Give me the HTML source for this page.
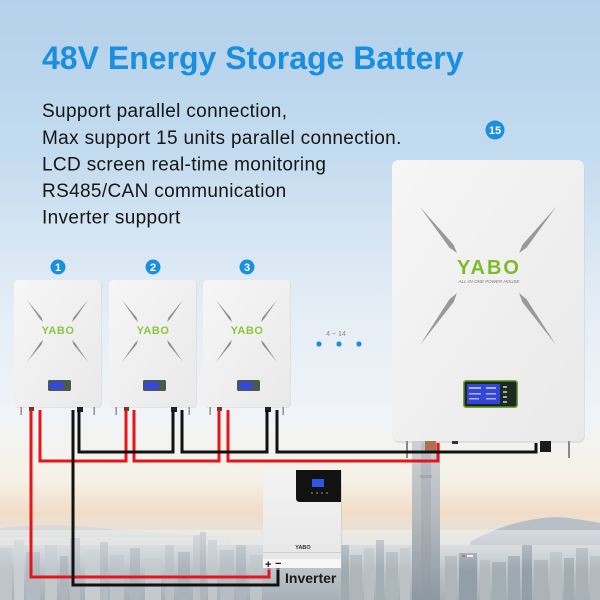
<!DOCTYPE html>
<html>
<head>
<meta charset="utf-8">
<style>
html,body{margin:0;padding:0;background:#fff;}
body{width:600px;height:600px;overflow:hidden;}
svg{display:block;}
</style>
</head>
<body>
<svg width="600" height="600" viewBox="0 0 600 600" xmlns="http://www.w3.org/2000/svg">
<defs>
  <linearGradient id="sky" x1="0" y1="0" x2="0" y2="1">
    <stop offset="0" stop-color="#b3d1ea"/>
    <stop offset="0.25" stop-color="#c3dbef"/>
    <stop offset="0.5" stop-color="#e3ecf5"/>
    <stop offset="0.7" stop-color="#f1f4f7"/>
    <stop offset="0.8" stop-color="#f6f1e6"/>
    <stop offset="0.855" stop-color="#f1dcc8"/>
    <stop offset="0.89" stop-color="#e8e3da"/>
    <stop offset="0.93" stop-color="#cfd5d9"/>
    <stop offset="1" stop-color="#b3bbc1"/>
  </linearGradient>
  <linearGradient id="cityBase" x1="0" y1="0" x2="0" y2="1">
    <stop offset="0" stop-color="#d0d5d8"/>
    <stop offset="1" stop-color="#a7b0b7"/>
  </linearGradient>
  <linearGradient id="haze" x1="0" y1="0" x2="0" y2="1">
    <stop offset="0" stop-color="#eef0f0" stop-opacity="0.55"/>
    <stop offset="1" stop-color="#eef0f0" stop-opacity="0"/>
  </linearGradient>
  <linearGradient id="tower" x1="0" y1="0" x2="0" y2="1">
    <stop offset="0" stop-color="#cfd2d4"/>
    <stop offset="0.5" stop-color="#b3b9be"/>
    <stop offset="1" stop-color="#8e98a1"/>
  </linearGradient>
  <linearGradient id="bat" x1="0" y1="0" x2="1" y2="1">
    <stop offset="0" stop-color="#f6f6f6"/>
    <stop offset="1" stop-color="#e9e9e9"/>
  </linearGradient>
  <linearGradient id="inv" x1="0" y1="0" x2="0" y2="1">
    <stop offset="0" stop-color="#f3f3f3"/>
    <stop offset="1" stop-color="#e6e6e6"/>
  </linearGradient>
</defs>

<!-- background -->
<rect x="0" y="0" width="600" height="600" fill="url(#sky)"/>

<!-- hills / sea -->
<path d="M0,528 Q50,522 110,529 Q170,534 230,537 L230,545 L0,545 Z" fill="#cfd4da" opacity="0.6"/>
<rect x="0" y="537" width="600" height="9" fill="#e4e4e0" opacity="0.6"/>
<path d="M470,542 Q500,525 530,520 Q555,515 575,519 Q590,521 600,523 L600,548 L470,548 Z" fill="#b8bfc6"/>

<!-- city base -->
<rect x="0" y="545" width="600" height="55" fill="url(#cityBase)"/>
<g>
  <rect x="0" y="548" width="12" height="52" fill="#bec6cb"/>
  <rect x="14" y="540" width="10" height="60" fill="#c8ced2"/>
  <rect x="26" y="552" width="14" height="48" fill="#b2bbc1"/>
  <rect x="45" y="545" width="12" height="55" fill="#c1c8cc"/>
  <rect x="60" y="556" width="8" height="44" fill="#adb6bc"/>
  <rect x="70" y="538" width="10" height="62" fill="#b6bec3"/>
  <rect x="85" y="550" width="15" height="50" fill="#c6ccd0"/>
  <rect x="100" y="542" width="8" height="58" fill="#b3bcc1"/>
  <rect x="110" y="555" width="14" height="45" fill="#bcc3c8"/>
  <rect x="130" y="548" width="10" height="52" fill="#aeb7bd"/>
  <rect x="145" y="558" width="16" height="42" fill="#c3c9cd"/>
  <rect x="165" y="545" width="9" height="55" fill="#b8c0c5"/>
  <rect x="178" y="552" width="12" height="48" fill="#aab3b9"/>
  <rect x="193" y="535" width="7" height="65" fill="#bac1c6"/>
  <rect x="200" y="532" width="6" height="68" fill="#aeb6bc"/>
  <rect x="208" y="540" width="9" height="60" fill="#c0c6ca"/>
  <rect x="220" y="550" width="14" height="50" fill="#b6bec3"/>
  <rect x="236" y="545" width="10" height="55" fill="#adb6bc"/>
  <rect x="250" y="555" width="12" height="45" fill="#bec5c9"/>
  <rect x="341" y="545" width="8" height="55" fill="#a0aab1"/>
  <rect x="350" y="555" width="12" height="45" fill="#adb6bc"/>
  <rect x="364" y="548" width="10" height="52" fill="#b8c0c5"/>
  <rect x="376" y="540" width="8" height="60" fill="#a3adb4"/>
  <rect x="386" y="552" width="12" height="48" fill="#aeb6bc"/>
  <rect x="400" y="548" width="10" height="52" fill="#bbc2c6"/>
  <rect x="445" y="556" width="12" height="44" fill="#aeb6bb"/>
  <rect x="459" y="553" width="18" height="47" fill="#939fa8"/>
  <rect x="462" y="555" width="3" height="2" fill="#d04040"/>
  <rect x="467" y="555" width="6" height="2" fill="#eef2f6"/>
  <rect x="480" y="560" width="10" height="40" fill="#b3bbc0"/>
  <rect x="492" y="562" width="14" height="38" fill="#a4aeb5"/>
  <rect x="508" y="556" width="12" height="44" fill="#9fa9b1"/>
  <rect x="522" y="545" width="10" height="55" fill="#94a0a9"/>
  <rect x="534" y="560" width="14" height="40" fill="#aab3b9"/>
  <rect x="550" y="552" width="12" height="48" fill="#b6bec3"/>
  <rect x="564" y="558" width="10" height="42" fill="#a2acb3"/>
  <rect x="576" y="548" width="12" height="52" fill="#a9b2b8"/>
  <rect x="590" y="556" width="10" height="44" fill="#b3bbc0"/>
</g>
<rect x="0" y="530" width="600" height="40" fill="url(#haze)"/>

<!-- tall tower -->
<rect x="412" y="441" width="28" height="159" fill="url(#tower)"/>
<rect x="421" y="441" width="10" height="159" fill="#8f99a2" opacity="0.3"/>
<rect x="420" y="475" width="12" height="3" fill="#8d959c" opacity="0.5"/>

<!-- title -->
<text x="42" y="69" font-family="Liberation Sans, Arial, sans-serif" font-size="32" font-weight="bold" fill="#1b8fdf">48V Energy Storage Battery</text>
<g font-family="Liberation Sans, Arial, sans-serif" font-size="19" fill="#151515" letter-spacing="0.35">
  <text x="42" y="117">Support parallel connection,</text>
  <text x="42" y="144">Max support 15 units parallel connection.</text>
  <text x="42" y="170.5">LCD screen real-time monitoring</text>
  <text x="42" y="197">RS485/CAN communication</text>
  <text x="42" y="223.5">Inverter support</text>
</g>

<!-- badges -->
<g font-family="Liberation Sans, Arial, sans-serif" font-weight="bold" fill="#fff" text-anchor="middle">
  <circle cx="58" cy="267" r="7.5" fill="#1a8fe0"/>
  <text x="58" y="271" font-size="11">1</text>
  <circle cx="153" cy="267" r="7.5" fill="#1a8fe0"/>
  <text x="153" y="271" font-size="11">2</text>
  <circle cx="247" cy="267" r="7.5" fill="#1a8fe0"/>
  <text x="247" y="271" font-size="11">3</text>
  <circle cx="495" cy="130" r="9.5" fill="#1a8fe0"/>
  <text x="495" y="134" font-size="11">15</text>
</g>

<!-- 4~14 dots -->
<text x="336" y="336" font-family="Liberation Sans, Arial, sans-serif" font-size="7" fill="#888" text-anchor="middle">4 ~ 14</text>
<circle cx="319" cy="344" r="2.6" fill="#1a8fe0"/>
<circle cx="339" cy="344" r="2.6" fill="#1a8fe0"/>
<circle cx="359" cy="344" r="2.6" fill="#1a8fe0"/>

<!-- small batteries -->
<g>
  <rect x="15" y="281" width="87" height="127" rx="4" fill="#cfd4d8" opacity="0.5"/>
  <rect x="14" y="280" width="87" height="127" rx="4" fill="url(#bat)"/>
  <g fill="#8e8e8e">
    <polygon points="27,300 40,319 43,322 41.5,317.5"/>
    <polygon points="88,300 75,319 72,322 73.5,317.5"/>
    <polygon points="27,362 40,343 43,340 41.5,344.5"/>
    <polygon points="88,362 75,343 72,340 73.5,344.5"/>
  </g>
  <text x="58" y="334" font-family="Liberation Sans, Arial, sans-serif" font-size="11" font-weight="bold" fill="#8cc63f" text-anchor="middle" letter-spacing="0.5">YABO</text>
  <rect x="48" y="380" width="23" height="11" rx="1.5" fill="#4a5a45"/>
  <rect x="49.5" y="381.5" width="14" height="8" fill="#3548d8"/>
  <g fill="#8a8a8a">
    <rect x="20.5" y="407" width="1.4" height="8"/>
    <rect x="93.5" y="407" width="1.4" height="8"/>
  </g>
  <rect x="29" y="407" width="5" height="4" fill="#6b3a2a"/>
  <rect x="77" y="407" width="6" height="5" fill="#222"/>
</g>
<g transform="translate(95,0)">
  <rect x="15" y="281" width="87" height="127" rx="4" fill="#cfd4d8" opacity="0.5"/>
  <rect x="14" y="280" width="87" height="127" rx="4" fill="url(#bat)"/>
  <g fill="#8e8e8e">
    <polygon points="27,300 40,319 43,322 41.5,317.5"/>
    <polygon points="88,300 75,319 72,322 73.5,317.5"/>
    <polygon points="27,362 40,343 43,340 41.5,344.5"/>
    <polygon points="88,362 75,343 72,340 73.5,344.5"/>
  </g>
  <text x="58" y="334" font-family="Liberation Sans, Arial, sans-serif" font-size="11" font-weight="bold" fill="#8cc63f" text-anchor="middle" letter-spacing="0.5">YABO</text>
  <rect x="48" y="380" width="23" height="11" rx="1.5" fill="#4a5a45"/>
  <rect x="49.5" y="381.5" width="14" height="8" fill="#3548d8"/>
  <g fill="#8a8a8a">
    <rect x="20.5" y="407" width="1.4" height="8"/>
    <rect x="93.5" y="407" width="1.4" height="8"/>
  </g>
  <rect x="29" y="407" width="5" height="4" fill="#6b3a2a"/>
  <rect x="76" y="407" width="6" height="5" fill="#222"/>
</g>
<g transform="translate(189,0)">
  <rect x="15" y="281" width="87" height="127" rx="4" fill="#cfd4d8" opacity="0.5"/>
  <rect x="14" y="280" width="87" height="127" rx="4" fill="url(#bat)"/>
  <g fill="#8e8e8e">
    <polygon points="27,300 40,319 43,322 41.5,317.5"/>
    <polygon points="88,300 75,319 72,322 73.5,317.5"/>
    <polygon points="27,362 40,343 43,340 41.5,344.5"/>
    <polygon points="88,362 75,343 72,340 73.5,344.5"/>
  </g>
  <text x="58" y="334" font-family="Liberation Sans, Arial, sans-serif" font-size="11" font-weight="bold" fill="#8cc63f" text-anchor="middle" letter-spacing="0.5">YABO</text>
  <rect x="48" y="380" width="23" height="11" rx="1.5" fill="#4a5a45"/>
  <rect x="49.5" y="381.5" width="14" height="8" fill="#3548d8"/>
  <g fill="#8a8a8a">
    <rect x="20.5" y="407" width="1.4" height="8"/>
    <rect x="93.5" y="407" width="1.4" height="8"/>
  </g>
  <rect x="28" y="407" width="5" height="4" fill="#6b3a2a"/>
  <rect x="76" y="407" width="6" height="5" fill="#222"/>
</g>

<!-- big battery -->
<rect x="393" y="162" width="192" height="281" rx="7" fill="#c8ced3" opacity="0.5"/>
<rect x="392" y="160" width="192" height="281" rx="7" fill="url(#bat)"/>
<g fill="#999">
  <polygon points="420,207 449.5,247.7 457,253 453.4,244.5"/>
  <polygon points="556,207 526.5,247.7 519,253 522.6,244.5"/>
  <polygon points="420,345 453.5,302.2 457,293 449.4,299.3"/>
  <polygon points="556,345 526.6,299.3 519,293 522.5,302.2"/>
</g>
<text x="489" y="274" font-family="Liberation Sans, Arial, sans-serif" font-size="20" font-weight="bold" fill="#7dbb2a" text-anchor="middle" letter-spacing="2">YABO</text>
<text x="489" y="283" font-family="Liberation Sans, Arial, sans-serif" font-size="4.5" fill="#777" text-anchor="middle" font-style="italic">ALL-IN-ONE  POWER HOUSE</text>
<rect x="463" y="380" width="55" height="28" rx="3" fill="#6fa83a"/>
<rect x="464.5" y="381.5" width="52" height="25" rx="2" fill="#1d2a1d"/>
<rect x="467" y="384" width="33" height="20" fill="#3446d6"/>
<g fill="#c9d0ff" opacity="0.8">
  <rect x="469" y="387" width="12" height="2"/>
  <rect x="486" y="387" width="10" height="2"/>
  <rect x="469" y="393" width="12" height="1.5"/>
  <rect x="486" y="393" width="10" height="1.5"/>
  <rect x="469" y="398" width="10" height="1.5"/>
  <rect x="486" y="398" width="10" height="1.5"/>
</g>
<g fill="#9aa">
  <rect x="503" y="386" width="4" height="2"/>
  <rect x="503" y="391" width="4" height="2"/>
  <rect x="503" y="396" width="4" height="2"/>
  <rect x="503" y="401" width="4" height="2"/>
</g>
<g fill="#8a8a8a">
  <rect x="406" y="441" width="2" height="17"/>
  <rect x="568" y="441" width="2" height="17"/>
</g>
<rect x="425" y="441" width="11" height="11" fill="#b07050"/>
<rect x="540" y="441" width="11" height="11" fill="#1a1a1a"/>
<rect x="452" y="441" width="6" height="3" fill="#333"/>

<!-- cables -->
<g fill="none" stroke="#e8141b" stroke-width="3" stroke-linejoin="miter">
  <polyline points="31,410 31,577 269,577 269,566"/>
  <polyline points="40,410 40,461 126,461 126,410"/>
  <polyline points="134,410 134,461 219,461 219,410"/>
  <polyline points="228,410 228,461 438,461 438,443"/>
</g>
<g fill="none" stroke="#111" stroke-width="3" stroke-linejoin="miter">
  <polyline points="73,410 73,585 278,585 278,566"/>
  <polyline points="79,410 79,452 173,452 173,410"/>
  <polyline points="182,410 182,452 267,452 267,410"/>
  <polyline points="277,410 277,452 536,452 536,443"/>
</g>

<!-- inverter -->
<rect x="264" y="471" width="78" height="99" fill="#b9bec3" opacity="0.5"/>
<rect x="263" y="470" width="78" height="98" fill="url(#inv)"/>
<path d="M296,470 L341,470 L341,502 L300,502 Q296,502 296,498 Z" fill="#121212"/>
<rect x="312" y="479" width="12" height="8" fill="#2f55e8"/>
<g fill="#555">
  <rect x="311" y="492" width="2" height="2"/>
  <rect x="316" y="492" width="2" height="2"/>
  <rect x="321" y="492" width="2" height="2"/>
  <rect x="326" y="492" width="2" height="2"/>
</g>
<text x="303" y="549" font-family="Liberation Sans, Arial, sans-serif" font-size="5.5" font-weight="bold" fill="#333" text-anchor="middle">YABO</text>
<rect x="263" y="552" width="78" height="0.8" fill="#c8c8c8"/>
<rect x="263" y="559" width="78" height="9" fill="#f7f7f7"/>
<text x="265" y="568" font-family="Liberation Sans, Arial, sans-serif" font-size="11" font-weight="bold" fill="#111">+</text>
<text x="275" y="567" font-family="Liberation Sans, Arial, sans-serif" font-size="11" font-weight="bold" fill="#111">−</text>
<text x="285" y="583" font-family="Liberation Sans, Arial, sans-serif" font-size="14" font-weight="bold" fill="#1a1a1a">Inverter</text>
</svg>
</body>
</html>
